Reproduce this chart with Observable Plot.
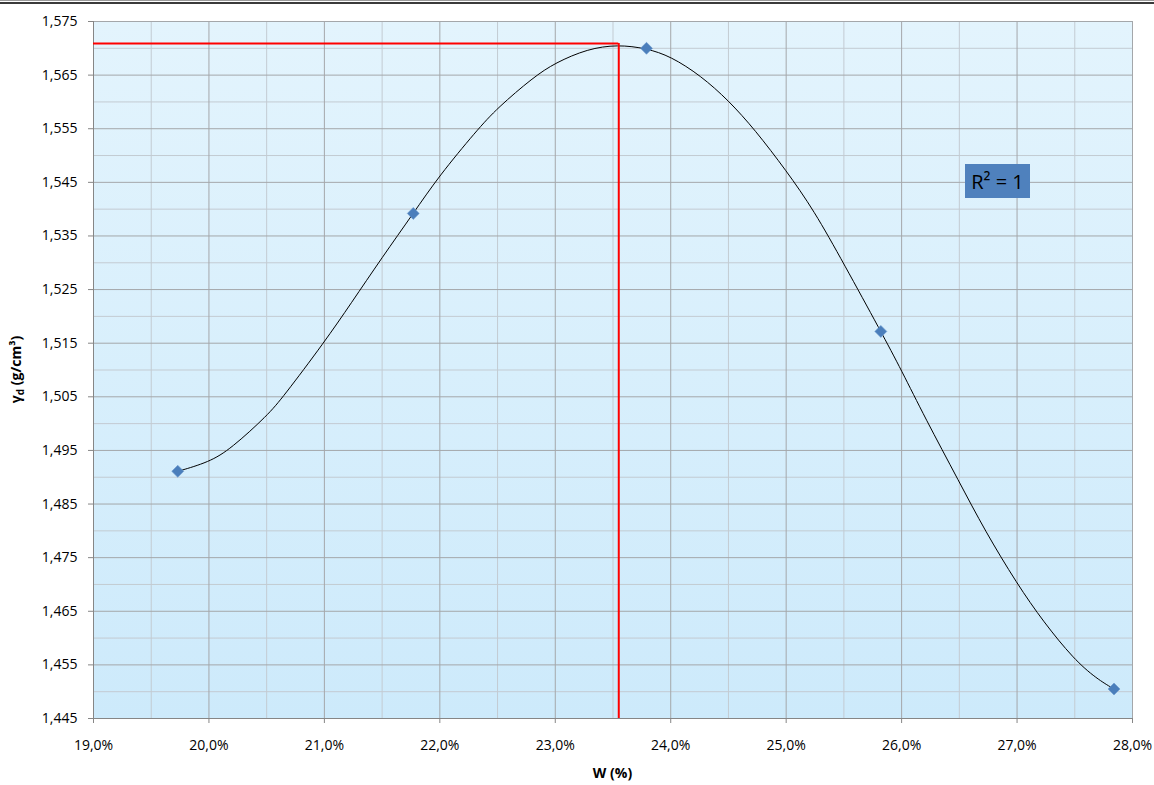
<!DOCTYPE html>
<html><head><meta charset="utf-8">
<script src="https://cdn.jsdelivr.net/npm/d3@7"></script>
<script src="https://cdn.jsdelivr.net/npm/@observablehq/plot@0.6"></script>
<style>
body{margin:0;background:#fff;}
#wrap{position:relative;width:1154px;height:785px;}
#topline{position:absolute;left:0;top:0;width:1154px;height:1px;border-top:1px solid #9a9a9a;border-bottom:2px solid #3a3a3a;}
</style></head><body><div id="wrap"><div id="topline"></div></div>
<script>
// Axis ticks
const xMajorTicks = [19, 20, 21, 22, 23, 24, 25, 26, 27, 28];
const xMinorTicks = [19.5, 20.5, 21.5, 22.5, 23.5, 24.5, 25.5, 26.5, 27.5];
const yMajorTicks = [1.445, 1.455, 1.465, 1.475, 1.485, 1.495, 1.505, 1.515, 1.525, 1.535, 1.545, 1.555, 1.565, 1.575];
const yMinorTicks = [1.450, 1.460, 1.470, 1.480, 1.490, 1.500, 1.510, 1.520, 1.530, 1.540, 1.550, 1.560, 1.570];

// Measured points: water content W (%) and dry density γd (g/cm³)
const wPct   = [19.73, 21.77, 23.79, 25.82, 27.84];
const gammaD = [1.4911, 1.5392, 1.5700, 1.5172, 1.4505];

// Trendline
const curveW  = [19.73, 20.00, 20.19, 20.51, 20.64, 21.00, 21.23, 21.50, 21.77, 21.99, 22.32, 22.50, 22.81, 23.00, 23.28, 23.54, 23.79, 24.00, 24.26, 24.50, 24.73, 25.00, 25.24, 25.50, 25.82, 26.00, 26.20, 26.50, 26.72, 27.00, 27.23, 27.49, 27.69, 27.84];
const curveYd = [1.4911, 1.4928, 1.4953, 1.5016, 1.5049, 1.5152, 1.5224, 1.5310, 1.5392, 1.5461, 1.5547, 1.5589, 1.5646, 1.5673, 1.5699, 1.5707, 1.5700, 1.5685, 1.5649, 1.5603, 1.5548, 1.5472, 1.5398, 1.5298, 1.5172, 1.5099, 1.5012, 1.4891, 1.4801, 1.4701, 1.4630, 1.4561, 1.4524, 1.4505];

// Optimum (red guide lines)
const optW  = [23.55];
const optYd = [1.5709];

const r2Text = "R² = 1";
const xTitle = "W (%)";

const points = wPct.map((w, i) => ({w, y: gammaD[i]}));
const curve = curveW.map((w, i) => ({w, y: curveYd[i]}));
const opt = optW.map((w, i) => ({w, y: optYd[i]}));

const fmtX = d => d.toFixed(1).replace(".", ",") + "%";
const fmtY = d => d.toFixed(3).replace(".", ",");

function background(index, scales, values, dims) {
  const g = d3.create("svg:g");
  const grad = g.append("defs").append("linearGradient")
    .attr("id", "bgGrad").attr("x1", 0).attr("y1", 0).attr("x2", 0).attr("y2", 1);
  grad.append("stop").attr("offset", "0%").attr("stop-color", "#e3f4fd");
  grad.append("stop").attr("offset", "100%").attr("stop-color", "#cdeafb");
  g.append("rect")
    .attr("x", dims.marginLeft).attr("y", dims.marginTop)
    .attr("width", dims.width - dims.marginLeft - dims.marginRight)
    .attr("height", dims.height - dims.marginTop - dims.marginBottom)
    .attr("fill", "url(#bgGrad)");
  return g.node();
}

function r2Box(index, scales, values, dims) {
  const g = d3.create("svg:g");
  const x0 = dims.width - dims.marginRight - 167;
  const y0 = dims.marginTop + 143;
  g.append("rect").attr("x", x0).attr("y", y0).attr("width", 65).attr("height", 34).attr("fill", "#4f81bd");
  g.append("text").attr("x", x0 + 32.5).attr("y", y0 + 17.5)
    .attr("text-anchor", "middle").attr("dominant-baseline", "central")
    .attr("font-size", 20).attr("fill", "#000").text(r2Text);
  return g.node();
}

function titles(index, scales, values, dims) {
  const g = d3.create("svg:g").attr("font-weight", "bold").attr("font-size", 14).attr("fill", "#000");
  const cx = (dims.marginLeft + dims.width - dims.marginRight) / 2;
  g.append("text").attr("x", cx).attr("y", dims.height - 7)
    .attr("text-anchor", "middle").text(xTitle);
  const cy = (dims.marginTop + dims.height - dims.marginBottom) / 2;
  const t = g.append("text").attr("transform", `translate(21,${cy}) rotate(-90)`)
    .attr("text-anchor", "middle");
  t.append("tspan").text("γ");
  t.append("tspan").attr("font-size", 10).attr("dy", 3).text("d");
  t.append("tspan").attr("dy", -3).text(" (g/cm³)");
  return g.node();
}

const chart = Plot.plot({
  width: 1154,
  height: 785,
  marginLeft: 93,
  marginRight: 22,
  marginTop: 21,
  marginBottom: 67,
  style: {fontFamily: "'Open Sans', sans-serif", fontSize: "14px", background: "transparent", color: "#000"},
  x: {domain: [xMajorTicks[0], xMajorTicks[xMajorTicks.length - 1]]},
  y: {domain: [yMajorTicks[0], yMajorTicks[yMajorTicks.length - 1]]},
  marks: [
    background,
    Plot.ruleX(xMinorTicks, {stroke: "#c3cbd2", strokeWidth: 1}),
    Plot.ruleY(yMinorTicks, {stroke: "#c3cbd2", strokeWidth: 1}),
    Plot.ruleX(xMajorTicks, {stroke: "#a4a7aa", strokeWidth: 1}),
    Plot.ruleY(yMajorTicks, {stroke: "#a4a7aa", strokeWidth: 1}),
    Plot.ruleX([xMajorTicks[0]], {stroke: "#868686"}),
    Plot.ruleY([yMajorTicks[0]], {stroke: "#868686"}),
    Plot.axisX({ticks: xMajorTicks, tickFormat: fmtX, tickSize: 5, tickPadding: 17, stroke: "#868686", fill: "#000", fontSize: 14, label: null}),
    Plot.axisY({ticks: yMajorTicks, tickFormat: fmtY, tickSize: 5, tickPadding: 11, stroke: "#868686", fill: "#000", fontSize: 14, label: null}),
    Plot.line(curve, {x: "w", y: "y", curve: "basis", stroke: "#000", strokeWidth: 1}),
    Plot.ruleY(opt, {y: "y", x1: xMajorTicks[0], x2: "w", stroke: "#ff0000", strokeWidth: 2}),
    Plot.ruleX(opt, {x: "w", y1: yMajorTicks[0], y2: "y", stroke: "#ff0000", strokeWidth: 2}),
    Plot.dot(points, {x: "w", y: "y", symbol: "diamond2", r: 5.4, fill: "#4a7ebb", stroke: "#6b98cc", strokeWidth: 0.6}),
    r2Box,
    titles
  ]
});
document.getElementById("wrap").prepend(chart);
</script>
</body></html>
